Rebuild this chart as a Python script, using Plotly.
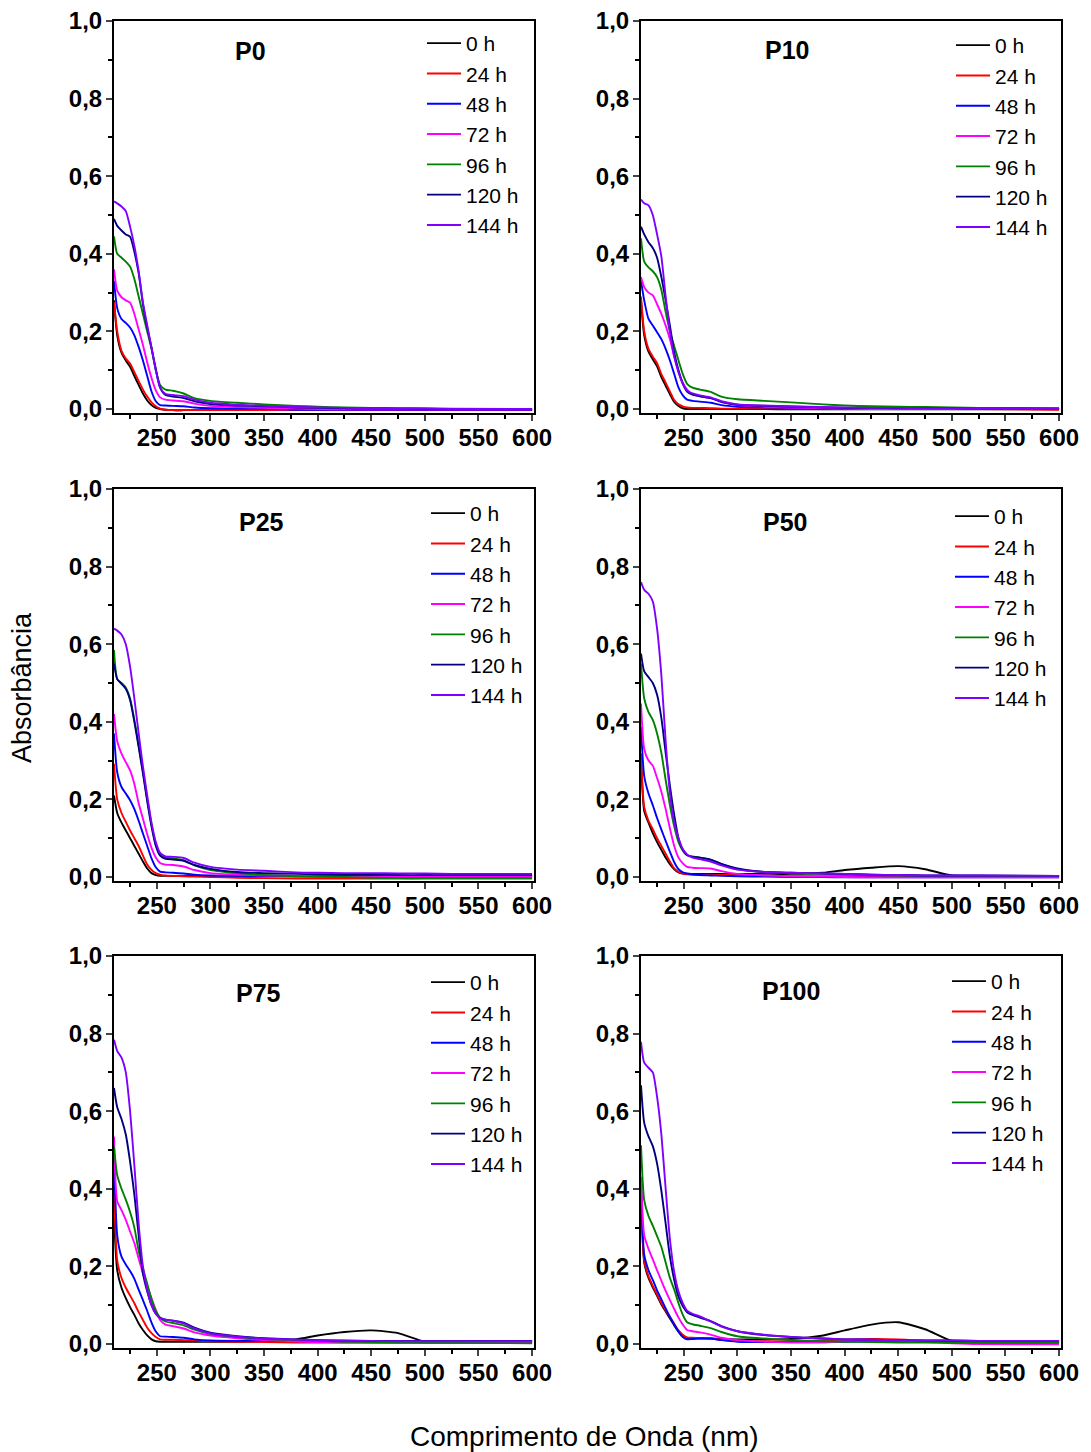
import plotly.graph_objects as go

# ---------------- data ----------------
WL = [210, 213, 217, 221, 225, 229, 233, 237, 241, 245, 249, 253, 258, 265, 275,
      285, 300, 325, 350, 380, 400, 425, 450, 475, 500, 525, 600]

SERIES = ["0 h", "24 h", "48 h", "72 h", "96 h", "120 h", "144 h"]
COLORS = ["#000000", "#FF0000", "#0000FF", "#FF00FF", "#008000", "#000080", "#8000FF"]
PANELS = ["P0", "P10", "P25", "P50", "P75", "P100"]

# P0
p0_0h   = [.28, .19, .145, .125, .109, .085, .062, .04, .022, .01, .003, 0, -.002, -.003, -.003, -.003, -.003, -.003, -.003, -.003, -.003, -.003, -.003, -.003, -.003, -.003, -.003]
p0_24h  = [.275, .2, .15, .13, .117, .095, .072, .05, .032, .017, .007, .001, -.002, -.003, -.003, -.003, -.003, -.003, -.003, -.003, -.003, -.003, -.003, -.003, -.003, -.003, -.003]
p0_48h  = [.33, .26, .232, .222, .21, .19, .16, .125, .085, .045, .02, .01, .009, .008, .007, .004, .002, .001, 0, -.002, -.002, -.002, -.002, -.002, -.002, -.002, -.002]
p0_72h  = [.36, .305, .288, .28, .274, .245, .205, .165, .12, .08, .048, .03, .024, .022, .02, .014, .008, .005, .003, .001, 0, -.001, -.001, -.001, -.001, -.001, -.001]
p0_96h  = [.445, .4, .39, .38, .367, .335, .29, .245, .2, .155, .1, .062, .05, .047, .04, .028, .021, .016, .012, .008, .006, .004, .003, .002, .002, .001, 0]
p0_120h = [.49, .472, .46, .45, .444, .405, .35, .27, .21, .158, .103, .055, .036, .032, .028, .02, .013, .009, .007, .004, .003, .002, .001, .001, 0, 0, 0]
p0_144h = [.535, .53, .522, .51, .47, .42, .355, .275, .215, .158, .1, .055, .039, .036, .033, .024, .016, .011, .008, .005, .004, .003, .002, .001, .001, 0, 0]

# P10
p10_0h   = [.28, .19, .148, .128, .11, .082, .06, .038, .018, .008, .002, 0, 0, 0, 0, 0, 0, 0, -.001, -.001, -.001, -.001, -.001, -.001, -.001, -.001, -.001]
p10_24h  = [.29, .2, .155, .135, .118, .09, .068, .045, .023, .012, .007, .004, .003, .003, .002, .001, .001, .001, .001, .001, .001, .001, .001, .001, 0, 0, -.002]
p10_48h  = [.33, .28, .232, .215, .198, .18, .155, .125, .09, .055, .035, .024, .021, .019, .016, .01, .006, .004, .003, .002, .001, 0, 0, 0, 0, 0, 0]
p10_72h  = [.34, .314, .3, .293, .27, .245, .215, .18, .135, .095, .068, .05, .038, .033, .028, .019, .01, .006, .004, .002, .001, 0, 0, 0, 0, 0, 0]
p10_96h  = [.44, .38, .365, .355, .34, .307, .25, .2, .162, .125, .09, .065, .055, .05, .044, .032, .025, .021, .017, .012, .009, .007, .006, .005, .004, .003, .002]
p10_120h = [.47, .45, .43, .415, .39, .34, .28, .215, .145, .1, .065, .045, .037, .033, .028, .018, .011, .008, .006, .004, .003, .003, .002, .002, .002, .001, .001]
p10_144h = [.54, .53, .525, .5, .45, .393, .29, .2, .135, .095, .065, .048, .04, .035, .03, .02, .012, .009, .007, .005, .004, .003, .003, .002, .002, .002, .001]

# P25
p25_0h   = [.21, .165, .14, .12, .1, .08, .06, .04, .022, .01, .005, .003, .003, .003, .003, .003, .003, .003, .003, .003, .003, .003, .003, .003, .003, .003, .003]
p25_24h  = [.292, .2, .165, .142, .12, .1, .08, .055, .032, .018, .01, .006, .004, .003, .002, .001, 0, -.002, -.003, -.004, -.004, -.004, -.004, -.004, -.004, -.004, -.004]
p25_48h  = [.37, .27, .232, .215, .198, .175, .145, .112, .08, .048, .025, .014, .012, .011, .009, .006, .004, .003, .002, .002, .001, .001, .001, .001, .001, .001, .001]
p25_72h  = [.42, .35, .318, .296, .275, .24, .19, .15, .11, .075, .05, .036, .032, .031, .027, .018, .01, .006, .004, .003, .002, .002, .002, .002, .002, .002, .002]
p25_96h  = [.585, .51, .5, .488, .46, .405, .34, .272, .2, .135, .085, .058, .05, .048, .043, .03, .018, .01, .005, .002, .001, 0, -.002, -.003, -.003, -.003, -.003]
p25_120h = [.55, .51, .498, .485, .456, .4, .335, .267, .195, .13, .08, .055, .047, .045, .042, .031, .021, .013, .01, .008, .007, .006, .006, .005, .005, .005, .005]
p25_144h = [.64, .635, .625, .6, .542, .46, .37, .285, .21, .14, .09, .062, .053, .052, .049, .037, .026, .019, .016, .012, .011, .01, .01, .009, .009, .008, .008]

# P50
p50_0h   = [.31, .17, .14, .113, .09, .07, .05, .033, .02, .012, .009, .008, .008, .008, .008, .008, .008, .008, .008, .011, .018, .024, .028, .02, .004, .003, .003]
p50_24h  = [.318, .18, .145, .123, .1, .08, .06, .04, .022, .013, .009, .007, .006, .006, .006, .005, .004, .003, .002, .002, .002, .002, .002, .002, .002, .002, .002]
p50_48h  = [.387, .26, .215, .185, .152, .122, .093, .065, .038, .02, .012, .009, .007, .005, .004, .003, .002, .001, 0, 0, -.001, -.001, -.001, -.001, -.001, -.001, -.001]
p50_72h  = [.447, .33, .3, .287, .255, .22, .175, .125, .08, .05, .035, .026, .024, .023, .022, .015, .008, .004, .002, .001, 0, -.001, -.001, -.001, -.001, -.001, -.001]
p50_96h  = [.55, .46, .425, .405, .37, .32, .25, .185, .13, .09, .068, .056, .053, .05, .044, .033, .02, .013, .01, .008, .006, .005, .004, .003, .003, .003, .002]
p50_120h = [.576, .53, .515, .5, .47, .41, .32, .235, .16, .1, .07, .056, .052, .05, .045, .034, .022, .013, .011, .009, .008, .006, .005, .004, .004, .004, .003]
p50_144h = [.76, .74, .73, .71, .64, .52, .35, .215, .14, .1, .072, .058, .05, .046, .04, .03, .019, .013, .011, .009, .008, .006, .005, .004, .004, .004, .003]

# P75
p75_0h   = [.33, .19, .145, .118, .095, .075, .053, .036, .022, .012, .007, .006, .006, .006, .006, .006, .006, .006, .007, .012, .022, .031, .035, .028, .006, .005, .005]
p75_24h  = [.405, .215, .17, .145, .125, .105, .082, .062, .042, .028, .018, .012, .011, .011, .01, .009, .007, .006, .005, .004, .004, .004, .004, .004, .004, .004, .004]
p75_48h  = [.492, .28, .225, .205, .188, .168, .14, .113, .085, .055, .032, .02, .019, .018, .016, .012, .009, .008, .008, .008, .008, .008, .008, .008, .008, .008, .008]
p75_72h  = [.535, .368, .345, .32, .29, .26, .22, .182, .15, .118, .088, .062, .05, .046, .04, .03, .022, .015, .01, .007, .005, .004, .003, .003, .003, .003, .003]
p75_96h  = [.509, .435, .4, .372, .34, .3, .24, .195, .155, .115, .085, .068, .058, .054, .048, .037, .026, .018, .013, .01, .008, .006, .005, .004, .003, .003, .002]
p75_120h = [.66, .61, .58, .54, .47, .385, .28, .182, .135, .1, .078, .067, .063, .06, .055, .042, .029, .02, .015, .012, .01, .009, .008, .008, .008, .008, .008]
p75_144h = [.784, .755, .738, .7, .6, .46, .31, .2, .14, .1, .078, .067, .063, .06, .053, .04, .027, .019, .014, .011, .01, .008, .008, .007, .007, .007, .007]

# P100
p100_0h   = [.39, .21, .17, .146, .124, .102, .084, .066, .048, .032, .02, .015, .015, .015, .014, .013, .012, .012, .013, .022, .035, .05, .056, .038, .008, .004, .004]
p100_24h  = [.397, .215, .175, .15, .128, .105, .087, .07, .052, .035, .024, .017, .016, .015, .014, .011, .008, .007, .007, .009, .011, .013, .012, .008, .004, .004, .004]
p100_48h  = [.43, .23, .19, .165, .138, .115, .092, .07, .05, .032, .018, .012, .013, .014, .014, .01, .006, .005, .005, .005, .006, .006, .006, .006, .007, .007, .007]
p100_72h  = [.431, .28, .245, .218, .19, .163, .137, .113, .09, .068, .05, .036, .033, .03, .024, .016, .01, .006, .004, .004, .007, .01, .009, .005, .002, 0, -.001]
p100_96h  = [.512, .37, .33, .305, .278, .25, .21, .17, .14, .105, .075, .056, .051, .047, .041, .031, .02, .014, .01, .007, .006, .005, .004, .004, .003, .003, .003]
p100_120h = [.667, .57, .535, .51, .465, .395, .31, .225, .165, .122, .097, .082, .075, .068, .059, .046, .033, .023, .018, .014, .012, .011, .01, .009, .009, .008, .008]
p100_144h = [.779, .725, .712, .7, .637, .54, .4, .27, .185, .135, .105, .086, .078, .071, .058, .045, .033, .024, .018, .014, .012, .011, .01, .009, .009, .008, .008]

PANEL_DATA = [
    [p0_0h, p0_24h, p0_48h, p0_72h, p0_96h, p0_120h, p0_144h],
    [p10_0h, p10_24h, p10_48h, p10_72h, p10_96h, p10_120h, p10_144h],
    [p25_0h, p25_24h, p25_48h, p25_72h, p25_96h, p25_120h, p25_144h],
    [p50_0h, p50_24h, p50_48h, p50_72h, p50_96h, p50_120h, p50_144h],
    [p75_0h, p75_24h, p75_48h, p75_72h, p75_96h, p75_120h, p75_144h],
    [p100_0h, p100_24h, p100_48h, p100_72h, p100_96h, p100_120h, p100_144h],
]

# ---------------- layout geometry ----------------
W, H = 1091, 1452
COL_X = [(114, 534), (641, 1061)]
ROW_Y = [(21, 413), (489, 881), (956, 1348)]
TITLE_POS = [(250, 51), (787, 50), (261, 522), (785, 522), (258, 993), (791, 991)]
LEGEND_POS = [(422, 23), (951, 25), (426, 493), (950, 496), (426, 962), (947, 961)]

FONT = "Liberation Sans, Arial, sans-serif"

fig = go.Figure()
layout = dict(
    width=W, height=H,
    margin=dict(l=0, r=0, t=0, b=0),
    paper_bgcolor="white", plot_bgcolor="white",
    separators=",.",
    font=dict(family=FONT, color="black"),
)
annotations = []

for i, panel in enumerate(PANELS):
    r, c = divmod(i, 2)
    x0, x1 = COL_X[c]
    y0, y1 = ROW_Y[r]
    n = "" if i == 0 else str(i + 1)
    leg = "legend" if i == 0 else f"legend{i + 1}"
    for s, name in enumerate(SERIES):
        fig.add_trace(go.Scatter(
            x=WL, y=PANEL_DATA[i][s], mode="lines", name=name,
            line=dict(color=COLORS[s], width=1.9, shape="spline", smoothing=0.6),
            xaxis="x" + n, yaxis="y" + n, legend=leg, showlegend=True,
        ))
    layout["xaxis" + n] = dict(
        domain=[x0 / W, x1 / W], anchor="y" + n, range=[210, 601.8],
        tick0=250, dtick=50, ticks="outside", ticklen=6, tickwidth=2,
        ticklabelstandoff=-4,
        showline=True, linewidth=2, linecolor="black", mirror=True,
        showgrid=False, zeroline=False, automargin=False,
        tickfont=dict(family=FONT, size=24, weight="bold", color="black"),
        minor=dict(dtick=25, ticks="outside", ticklen=4, tickwidth=1.5, tickcolor="black", showgrid=False),
    )
    layout["yaxis" + n] = dict(
        domain=[1 - y1 / H, 1 - y0 / H], anchor="x" + n, range=[-0.0103, 1.0],
        tick0=0, dtick=0.2, tickformat=".1f", ticks="outside", ticklen=6, tickwidth=2,
        ticklabelstandoff=-1,
        showline=True, linewidth=2, linecolor="black", mirror=True,
        showgrid=False, zeroline=False, automargin=False,
        tickfont=dict(family=FONT, size=24, weight="bold", color="black"),
        minor=dict(dtick=0.1, ticks="outside", ticklen=4, tickwidth=1.5, tickcolor="black", showgrid=False),
    )
    lx, ly = LEGEND_POS[i]
    layout[leg] = dict(
        x=lx / W, y=1 - ly / H, xanchor="left", yanchor="top",
        bgcolor="rgba(0,0,0,0)", borderwidth=0, itemwidth=34,
        font=dict(family=FONT, size=21, color="black"), tracegroupgap=0,
    )
    tx, ty = TITLE_POS[i]
    annotations.append(dict(
        text=panel, x=tx / W, y=1 - ty / H, xref="paper", yref="paper",
        showarrow=False, xanchor="center", yanchor="middle",
        font=dict(family=FONT, size=25, weight="bold", color="black"),
    ))

annotations.append(dict(
    text="Absorbância", x=22 / W, y=1 - 688 / H, xref="paper", yref="paper",
    showarrow=False, textangle=-90, xanchor="center", yanchor="middle",
    font=dict(family=FONT, size=27, color="black"),
))
annotations.append(dict(
    text="Comprimento de Onda (nm)", x=585 / W, y=1 - 1436 / H, xref="paper", yref="paper",
    showarrow=False, xanchor="center", yanchor="middle",
    font=dict(family=FONT, size=28, color="black"),
))
layout["annotations"] = annotations
fig.update_layout(**layout)
fig.write_html("out.html")
